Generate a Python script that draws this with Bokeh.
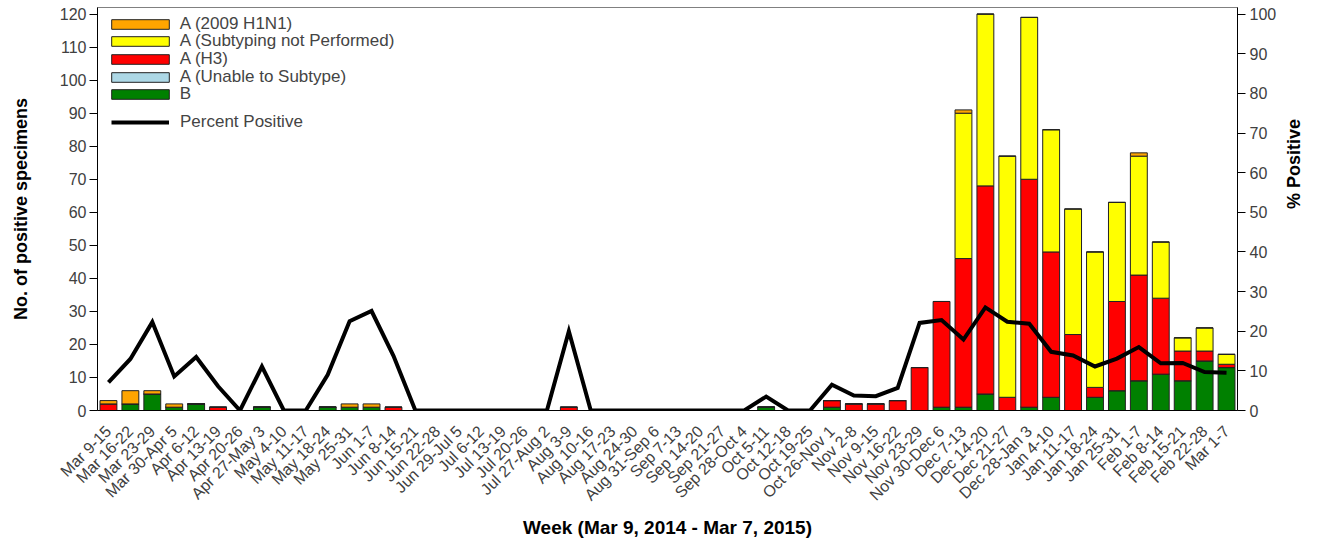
from math import pi
from bokeh.plotting import figure
from bokeh.models import (Range1d, LinearAxis, SingleIntervalTicker, Legend, LegendItem,
                          FactorRange, ColumnDataSource)
from bokeh.embed import file_html
from bokeh.resources import INLINE

weeks = ["Mar 9-15", "Mar 16-22", "Mar 23-29", "Mar 30-Apr 5", "Apr 6-12", "Apr 13-19",
         "Apr 20-26", "Apr 27-May 3", "May 4-10", "May 11-17", "May 18-24", "May 25-31",
         "Jun 1-7", "Jun 8-14", "Jun 15-21", "Jun 22-28", "Jun 29-Jul 5", "Jul 6-12",
         "Jul 13-19", "Jul 20-26", "Jul 27-Aug 2", "Aug 3-9", "Aug 10-16", "Aug 17-23",
         "Aug 24-30", "Aug 31-Sep 6", "Sep 7-13", "Sep 14-20", "Sep 21-27", "Sep 28-Oct 4",
         "Oct 5-11", "Oct 12-18", "Oct 19-25", "Oct 26-Nov 1", "Nov 2-8", "Nov 9-15",
         "Nov 16-22", "Nov 23-29", "Nov 30-Dec 6", "Dec 7-13", "Dec 14-20", "Dec 21-27",
         "Dec 28-Jan 3", "Jan 4-10", "Jan 11-17", "Jan 18-24", "Jan 25-31", "Feb 1-7",
         "Feb 8-14", "Feb 15-21", "Feb 22-28", "Mar 1-7"]

b_vals = [0, 2, 5, 1, 2, 0, 0, 1, 0, 0, 1, 1, 1, 0, 0, 0, 0, 0, 0, 0, 0, 0, 0, 0, 0, 0,
          0, 0, 0, 0, 1, 0, 0, 1, 0, 0, 0, 0, 1, 1, 5, 0, 1, 4, 0, 4, 6, 9, 11, 9, 15, 13]
unable_vals = [0] * 52
h3_vals = [2, 0, 0, 0, 0, 1, 0, 0, 0, 0, 0, 0, 0, 1, 0, 0, 0, 0, 0, 0, 0, 1, 0, 0, 0, 0,
           0, 0, 0, 0, 0, 0, 0, 2, 2, 2, 3, 13, 32, 45, 63, 4, 69, 44, 23, 3, 27, 32, 23, 9, 3, 1]
snp_vals = [0, 0, 0, 0, 0, 0, 0, 0, 0, 0, 0, 0, 0, 0, 0, 0, 0, 0, 0, 0, 0, 0, 0, 0, 0, 0,
            0, 0, 0, 0, 0, 0, 0, 0, 0, 0, 0, 0, 0, 44, 52, 73, 49, 37, 38, 41, 30, 36, 17, 4, 7, 3]
h1n1_vals = [1, 4, 1, 1, 0, 0, 0, 0, 0, 0, 0, 1, 1, 0, 0, 0, 0, 0, 0, 0, 0, 0, 0, 0, 0, 0,
             0, 0, 0, 0, 0, 0, 0, 0, 0, 0, 0, 0, 0, 1, 0, 0, 0, 0, 0, 0, 0, 1, 0, 0, 0, 0]
pct_positive = [7.1, 13.0, 22.3, 8.6, 13.5, 6.1, 0, 11.1, 0, 0, 9.0, 22.5, 25.1, 13.8,
                0, 0, 0, 0, 0, 0, 0, 20.0, 0, 0, 0, 0, 0, 0, 0, 0, 3.5, 0, 0, 6.5,
                3.8, 3.6, 5.7, 22.1, 22.8, 17.9, 26.0, 22.4, 21.9, 14.8, 13.9, 11.1,
                13.1, 16.0, 11.9, 12.0, 9.7, 9.5]

series_names = ["A (2009 H1N1)", "A (Subtyping not Performed)", "A (H3)",
                "A (Unable to Subtype)", "B"]

src = ColumnDataSource(dict(week=weeks, B=b_vals, U=unable_vals, H3=h3_vals,
                            SNP=snp_vals, H1=h1n1_vals, pct=pct_positive))

FONT = "Liberation Sans"

p = figure(x_range=FactorRange(*weeks), y_range=Range1d(0, 122),
           width=1321, height=542, output_backend="svg", toolbar_location=None,
           min_border_left=97, min_border_right=84, min_border_top=7,
           min_border_bottom=132)
p.extra_y_ranges = {"pct": Range1d(0, 122 / 1.2)}

colors = ["#008000", "#ADD8E6", "#FF0000", "#FFFF00", "#FFA500"]
rs = p.vbar_stack(["B", "U", "H3", "SNP", "H1"], x="week", width=0.77, color=colors,
                  line_color="#222222", line_width=1, source=src)
ln = p.line(x="week", y="pct", y_range_name="pct", line_width=4, color="black",
            line_join="miter", source=src)

p.xgrid.visible = False
p.ygrid.visible = False
p.outline_line_color = "#808080"

# left axis
ya = p.yaxis[0]
ya.ticker = SingleIntervalTicker(interval=10)
ya.axis_label = "No. of positive specimens"
ya.axis_label_text_font = FONT
ya.axis_label_text_font_style = "bold"
ya.axis_label_text_font_size = "18px"
ya.axis_label_text_color = "black"
ya.axis_label_standoff = 26
ya.major_label_text_font = FONT
ya.major_label_text_font_size = "16px"
ya.major_label_text_color = "#404040"
ya.major_tick_in = 0
ya.major_tick_out = 8
ya.minor_tick_line_color = None
ya.axis_line_color = "black"
ya.major_label_standoff = 3

# right axis
ra = LinearAxis(y_range_name="pct", ticker=SingleIntervalTicker(interval=10))
ra.major_label_text_font = FONT
ra.major_label_text_font_size = "16px"
ra.major_label_text_color = "#404040"
ra.major_tick_in = 0
ra.major_tick_out = 8
ra.minor_tick_line_color = None
ra.axis_line_color = "black"
ra.major_label_standoff = 4
ra.axis_label = "% Positive"
ra.axis_label_text_font = FONT
ra.axis_label_text_font_style = "bold"
ra.axis_label_text_font_size = "18px"
ra.axis_label_text_color = "black"
ra.axis_label_standoff = 15
if hasattr(ra, "axis_label_orientation"):
    ra.axis_label_orientation = pi / 2
p.add_layout(ra, "right")

# bottom axis
xa = p.xaxis[0]
xa.major_label_orientation = pi / 4
xa.major_label_text_font = FONT
xa.major_label_text_font_size = "16px"
xa.major_label_text_color = "#404040"
xa.major_label_standoff = 12
xa.major_tick_line_color = None
xa.axis_line_color = "black"
xa.axis_label = "Week (Mar 9, 2014 - Mar 7, 2015)"
xa.axis_label_text_font = FONT
xa.axis_label_text_font_style = "bold"
xa.axis_label_text_font_size = "19px"
xa.axis_label_text_color = "black"
xa.axis_label_standoff = 4

# legends: one per row so rows can sit close together
row_vy = [376.5, 359.0, 341.2, 323.5, 306.0]
bar_renderers = [rs[4], rs[3], rs[2], rs[1], rs[0]]
for name, r, vy in zip(series_names, bar_renderers, row_vy):
    lg = Legend(items=[LegendItem(label=name, renderers=[r])], location=(6.8, vy),
                margin=0, padding=0, glyph_width=72, glyph_height=12, label_height=12,
                spacing=0, label_standoff=4, label_text_font=FONT,
                label_text_font_size="17px", border_line_color=None,
                background_fill_alpha=0)
    p.add_layout(lg)

lg_line = Legend(items=[LegendItem(label="Percent Positive", renderers=[ln])],
                 location=(14, 277.7), margin=0, padding=0,
                 glyph_width=58, glyph_height=12, label_height=12, spacing=0,
                 label_standoff=11, label_text_font=FONT, label_text_font_size="17px",
                 border_line_color=None, background_fill_alpha=0)
p.add_layout(lg_line)

open("out.html", "w").write(file_html(p, INLINE))
